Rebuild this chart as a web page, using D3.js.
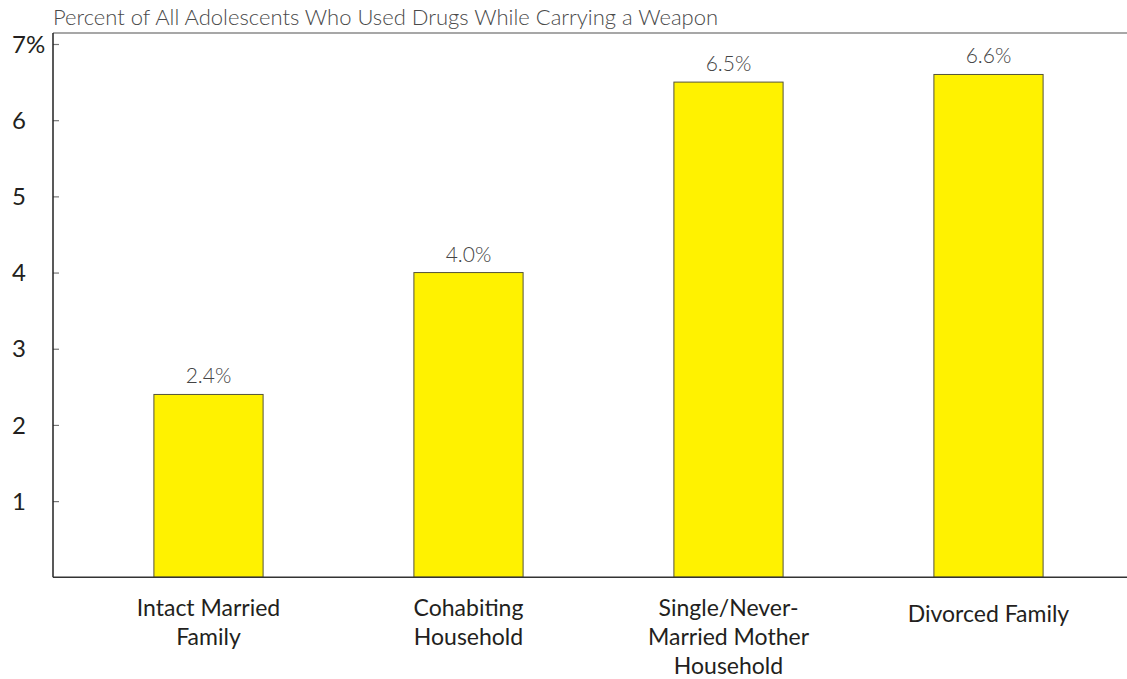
<!DOCTYPE html>
<html>
<head>
<meta charset="utf-8">
<script src="https://cdn.jsdelivr.net/npm/d3@7"></script>
<style>
  html, body { margin: 0; padding: 0; background: #fff; }
  svg { display: block; }
</style>
</head>
<body>
<svg id="chart" width="1127" height="679"></svg>
<script>
// ---- data ----
const categories = ["Intact Married Family", "Cohabiting Household", "Single/Never-Married Mother Household", "Divorced Family"];
const categoryLines = [["Intact Married", "Family"], ["Cohabiting", "Household"], ["Single/Never-", "Married Mother", "Household"], ["Divorced Family"]];
const values = [2.4, 4.0, 6.5, 6.6];
const valueLabels = ["2.4%", "4.0%", "6.5%", "6.6%"];
const yTicks = [1, 2, 3, 4, 5, 6, 7];
const yTickLabels = ["1", "2", "3", "4", "5", "6", "7%"];
const title = "Percent of All Adolescents Who Used Drugs While Carrying a Weapon";

// ---- layout ----
const svg = d3.select("#chart");
const W = 1127, H = 679;
const plotLeft = 53, plotTop = 33, plotBottom = 577.3;

const y = d3.scaleLinear().domain([0, 7]).range([plotBottom, 44]);
const x = d3.scaleBand().domain(categories).range([78.5, 1118.5]).paddingInner(0.58).paddingOuter(0.29);

// title
svg.append("text")
  .attr("x", plotLeft).attr("y", 25)
  .attr("font-family", "Lato, 'Open Sans', sans-serif")
  .attr("font-weight", 300)
  .attr("font-size", 22)
  .attr("fill", "#4a4a4a")
  .text(title);

// top gray rule
svg.append("line")
  .attr("x1", plotLeft).attr("x2", W)
  .attr("y1", plotTop).attr("y2", plotTop)
  .attr("stroke", "#8a8a8a").attr("stroke-width", 1.5);

// bars
const tx = d => x(d) + x.bandwidth() / 2;
svg.append("g").selectAll("rect")
  .data(categories)
  .join("rect")
  .attr("x", d => x(d))
  .attr("width", x.bandwidth())
  .attr("y", (d, i) => y(values[i]))
  .attr("height", (d, i) => y(0) - y(values[i]))
  .attr("fill", "#fff200")
  .attr("stroke", "#55543a")
  .attr("stroke-width", 1);

// value labels
svg.append("g").selectAll("text")
  .data(categories)
  .join("text")
  .attr("x", tx)
  .attr("y", (d, i) => y(values[i]) - 11)
  .attr("text-anchor", "middle")
  .attr("font-family", "Lato, 'Open Sans', sans-serif")
  .attr("font-weight", 300)
  .attr("font-size", 21)
  .attr("fill", "#444")
  .text((d, i) => valueLabels[i]);

// y axis using d3 axis (inward ticks)
const yAxis = d3.axisRight(y).tickValues(yTicks).tickSize(6).tickFormat("");
const gy = svg.append("g").attr("transform", `translate(${plotLeft},0)`).call(yAxis);
gy.select(".domain").remove();
gy.selectAll(".tick line").attr("stroke", "#777").attr("stroke-width", 1.2);
svg.append("line")
  .attr("x1", plotLeft).attr("x2", plotLeft)
  .attr("y1", plotTop).attr("y2", plotBottom)
  .attr("stroke", "#222").attr("stroke-width", 1.5);

// y tick labels
svg.append("g").selectAll("text")
  .data(yTicks)
  .join("text")
  .attr("x", 12)
  .attr("y", d => y(d))
  .attr("dy", "0.36em")
  .attr("font-family", "Lato, 'Open Sans', sans-serif")
  .attr("font-size", 24)
  .attr("fill", "#231f20")
  .text((d, i) => yTickLabels[i]);

// x axis baseline
svg.append("line")
  .attr("x1", plotLeft).attr("x2", W)
  .attr("y1", plotBottom).attr("y2", plotBottom)
  .attr("stroke", "#333").attr("stroke-width", 1.5);

// category labels
const cg = svg.append("g").selectAll("text")
  .data(categories)
  .join("text")
  .attr("text-anchor", "middle")
  .attr("font-family", "Lato, 'Open Sans', sans-serif")
  .attr("font-size", 23)
  .attr("fill", "#231f20");
cg.each(function(d, i) {
  const lines = categoryLines[i];
  const first = lines.length === 1 ? 622 : 616;
  d3.select(this).selectAll("tspan")
    .data(lines)
    .join("tspan")
    .attr("x", tx(d))
    .attr("y", (l, j) => first + j * 29)
    .text(l => l);
});
</script>
</body>
</html>
